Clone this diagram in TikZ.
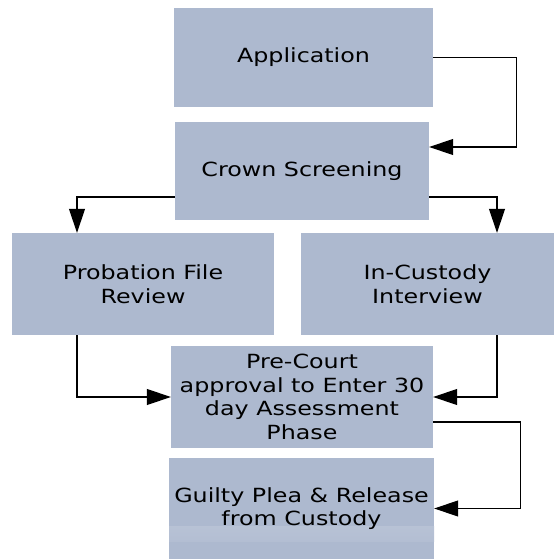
\documentclass[tikz,border=0pt]{standalone}
\usepackage{fontspec}
\setmainfont{DejaVu Sans}[FakeStretch=1.22]
\usetikzlibrary{arrows.meta}
\definecolor{boxblue}{RGB}{173,185,207}
\definecolor{bandlight}{RGB}{206,213,226}

\begin{document}
\begin{tikzpicture}[x=1pt,y=-1pt,
  box/.style={rectangle,fill=boxblue,draw=none,inner sep=0pt,align=center,
    font=\fontsize{19.5}{23.5}\selectfont},
  flow/.style={draw=black,line width=1.1pt,-{Triangle[length=24pt,width=16pt]}}]
\useasboundingbox (0,0) rectangle (555,559);

\node[box,minimum width=259pt,minimum height=99pt] (app) at (303.5,57.5) {Application};
\node[box,minimum width=254pt,minimum height=98pt] (crown) at (302,171) {Crown Screening};
\node[box,minimum width=262pt,minimum height=102pt] (prob) at (143,284) {Probation File\\Review};
\node[box,minimum width=253pt,minimum height=102pt] (cust) at (427.5,284) {In-Custody\\Interview};
\node[box,minimum width=262pt,minimum height=102pt] (pre) at (302,397) {Pre-Court\\approval to Enter 30\\day Assessment\\Phase};
\node[box,minimum width=265pt,minimum height=101pt,
  path picture={\shade[top color=bandlight,bottom color=boxblue]
    ([yshift=-18pt]path picture bounding box.west) rectangle
    ([yshift=-33pt]path picture bounding box.east);}] (guilty) at (301.5,508.5) {Guilty Plea \& Release\\from Custody};

\draw[flow] (app.east) -- ++(83,0) |- ([yshift=24pt]crown.east);
\draw[flow] ([yshift=-26pt]crown.west) -| ([xshift=-66pt]prob.north);
\draw[flow] ([yshift=-26pt]crown.east) -| ([xshift=69.5pt]cust.north);
\draw[flow] ([xshift=-66pt]prob.south) |- (pre.west);
\draw[flow] ([xshift=69.5pt]cust.south) |- (pre.east);
\draw[flow] ([yshift=-25pt]pre.east) -- ++(87,0) |- (guilty.east);

\end{tikzpicture}
\end{document}
